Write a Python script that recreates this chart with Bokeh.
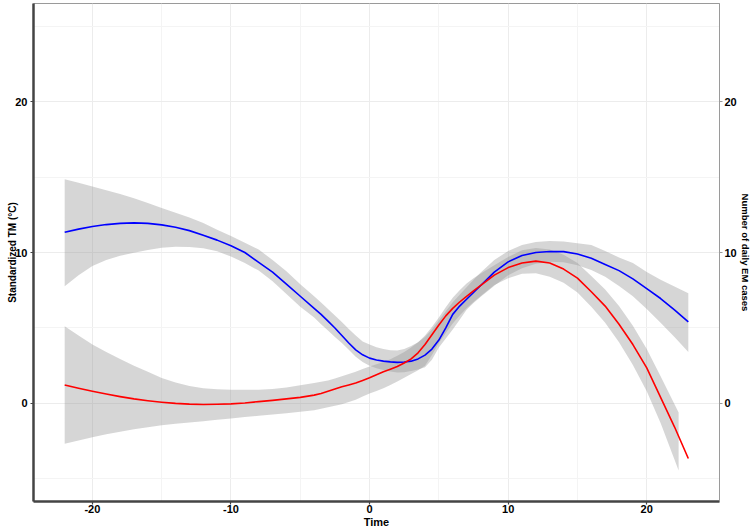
from bokeh.plotting import figure
from bokeh.models import Range1d, LinearAxis, FixedTicker
from bokeh.embed import file_html
from bokeh.resources import INLINE

# ---- data ----
# time grid: whole days, with half days where the curves bend most
time = list(range(-22, -4)) + [h / 2 for h in range(-8, 17)] + list(range(9, 24))

tm_fit = [11.34, 11.55, 11.72, 11.85, 11.93, 11.96, 11.93, 11.83, 11.67, 11.45,
          11.15, 10.82, 10.45, 10.0, 9.35, 8.7, 7.9, 7.1,
          6.3, 5.9, 5.45, 5.0, 4.5, 4.0, 3.55, 3.22, 3.0, 2.88, 2.8, 2.75, 2.72,
          2.74, 2.8, 2.95, 3.2, 3.6, 4.2, 5.0, 5.9, 6.45, 6.9, 7.35, 7.8,
          8.7, 9.38, 9.8, 10.0, 10.07, 10.06, 9.9, 9.62, 9.2, 8.8, 8.25, 7.6, 6.95, 6.2, 5.4]
tm_upper = [14.86, 14.62, 14.37, 14.12, 13.87, 13.6, 13.28, 12.95, 12.63, 12.32,
            11.95, 11.5, 11.1, 10.65, 10.2, 9.5, 8.75, 7.9,
            7.1, 6.68, 6.25, 5.83, 5.4, 4.93, 4.5, 4.1, 3.9, 3.72, 3.6, 3.52, 3.5,
            3.6, 3.8, 4.05, 4.4, 4.9, 5.5, 6.1, 6.7, 7.2, 7.7, 8.2, 8.65,
            9.5, 10.1, 10.5, 10.7, 10.76, 10.73, 10.62, 10.5, 10.1, 9.67, 9.3, 8.7, 8.2, 7.75, 7.3]
tm_lower = [7.77, 8.5, 9.1, 9.5, 9.78, 9.98, 10.17, 10.32, 10.38, 10.37,
            10.28, 10.08, 9.73, 9.3, 8.8, 8.1, 7.25, 6.4,
            5.7, 5.25, 4.83, 4.4, 4.0, 3.55, 3.1, 2.75, 2.5, 2.33, 2.22, 2.12, 2.05,
            2.07, 2.15, 2.25, 2.4, 2.9, 3.7, 4.3, 4.9, 5.55, 6.2, 6.65, 7.05,
            7.8, 8.5, 8.95, 9.25, 9.38, 9.36, 9.15, 8.84, 8.4, 7.78, 7.1, 6.25, 5.35, 4.4, 3.4]

em_fit = [1.22, 1.0, 0.8, 0.62, 0.45, 0.3, 0.18, 0.08, 0.0, -0.05,
          -0.07, -0.06, -0.03, 0.03, 0.12, 0.2, 0.3, 0.4,
          0.55, 0.66, 0.8, 0.95, 1.1, 1.22, 1.35, 1.52, 1.7, 1.9, 2.1, 2.27, 2.45,
          2.68, 2.95, 3.35, 3.9, 4.55, 5.2, 5.8, 6.3, 6.72, 7.1, 7.45, 7.8,
          8.5, 9.0, 9.3, 9.43, 9.3, 8.9, 8.3, 7.4, 6.45, 5.25, 3.9, 2.35, 0.4, -1.55, -3.65]

em_ci_time = list(range(-22, -4)) + [h / 2 for h in range(-8, 17)] + list(range(9, 22)) + [22.3]
em_upper = [5.12, 4.5, 3.9, 3.4, 2.95, 2.5, 2.1, 1.68, 1.38, 1.15,
            1.0, 0.93, 0.9, 0.9, 0.9, 0.95, 1.05, 1.2,
            1.35, 1.43, 1.52, 1.65, 1.8, 1.95, 2.1, 2.28, 2.45, 2.6, 2.75, 2.93, 3.15,
            3.4, 3.7, 4.05, 4.5, 5.07, 5.7, 6.37, 7.0, 7.5, 7.95, 8.3, 8.6,
            9.15, 9.7, 10.15, 10.3, 10.2, 9.85, 9.3, 8.45, 7.55, 6.45, 5.15, 3.6, 1.8, -0.6]
em_lower = [-2.68, -2.45, -2.25, -2.05, -1.88, -1.72, -1.58, -1.45, -1.35, -1.27,
            -1.19, -1.08, -1.0, -0.9, -0.82, -0.74, -0.66, -0.56,
            -0.45, -0.36, -0.25, -0.15, -0.05, 0.1, 0.25, 0.45, 0.65, 0.82, 1.0, 1.22, 1.45,
            1.7, 1.95, 2.2, 2.5, 3.2, 4.0, 4.67, 5.3, 5.82, 6.3, 6.72, 7.1,
            7.85, 8.3, 8.6, 8.62, 8.4, 8.0, 7.35, 6.4, 5.35, 4.05, 2.55, 0.8, -1.3, -4.45]

x_ticks = [-20, -10, 0, 10, 20]
x_minor = [-15, -5, 5, 15]
y_ticks = [0, 10, 20]
y_minor = [-5, 5, 15, 25]

x_title = "Time"
y_title = "Standardized TM (°C)"
y2_title = "Number of daily EM cases"

FONT = "Liberation Sans"
X0, X1 = -24.25, 25.25
Y0, Y1 = -6.5, 26.5

p = figure(width=753, height=530,
           x_range=Range1d(X0, X1), y_range=Range1d(Y0, Y1),
           output_backend="svg", toolbar_location=None,
           min_border_top=3, min_border_left=33, min_border_right=34, min_border_bottom=29)
p.background_fill_color = "white"
p.border_fill_color = "white"
p.outline_line_color = "#9a9a9a"
p.outline_line_width = 1

# ribbons
p.varea(x=time, y1=tm_lower, y2=tm_upper, fill_color="#999999", fill_alpha=0.4)
p.varea(x=em_ci_time, y1=em_lower, y2=em_upper, fill_color="#999999", fill_alpha=0.4)
# lines
p.line(time, tm_fit, line_color="#0000FF", line_width=1.6, line_join="round")
p.line(time, em_fit, line_color="#FF0000", line_width=1.6, line_join="round")

xt = FixedTicker(ticks=x_ticks, minor_ticks=x_minor)
yt = FixedTicker(ticks=y_ticks, minor_ticks=y_minor)


def style_axis(ax, ticks, line_color, line_width, tick_color, standoff, title, title_size, title_standoff):
    ax.axis_line_color = line_color
    ax.axis_line_width = line_width
    ax.major_tick_line_color = tick_color
    ax.major_tick_line_width = 1.2
    ax.major_tick_out = 3
    ax.major_tick_in = 0
    ax.minor_tick_line_color = None
    ax.major_label_overrides = {t: str(t) for t in ticks}
    ax.major_label_text_font = FONT
    ax.major_label_text_font_style = "bold"
    ax.major_label_text_font_size = "11px"
    ax.major_label_text_color = "black"
    ax.major_label_standoff = standoff
    ax.axis_label = title
    ax.axis_label_text_font = FONT
    ax.axis_label_text_font_style = "bold"
    ax.axis_label_text_font_size = title_size
    ax.axis_label_text_color = "black"
    ax.axis_label_standoff = title_standoff


p.xaxis[0].ticker = xt
p.yaxis[0].ticker = yt
style_axis(p.xaxis[0], x_ticks, "#444444", 2.5, "#444444", -1, x_title, "11px", 0)
style_axis(p.yaxis[0], y_ticks, "#444444", 2.5, "#444444", 2, y_title, "10px", -6)

ry = LinearAxis(ticker=yt)
style_axis(ry, y_ticks, "#9a9a9a", 1, "#9a9a9a", 1, y2_title, "9.5px", 0)
p.add_layout(ry, "right")

p.xgrid.grid_line_color = "#ececec"
p.ygrid.grid_line_color = "#ececec"
p.xgrid.minor_grid_line_color = "#f4f4f4"
p.ygrid.minor_grid_line_color = "#f4f4f4"
p.xgrid.grid_line_width = 1
p.ygrid.grid_line_width = 1

open("out.html", "w").write(file_html(p, INLINE))
